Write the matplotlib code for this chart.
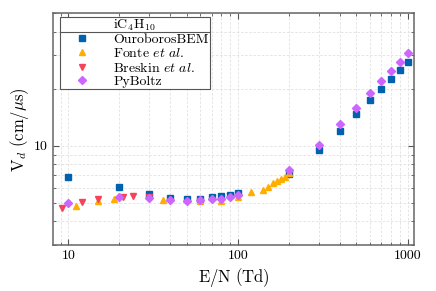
import matplotlib
matplotlib.use("Agg")
import matplotlib.pyplot as plt
from matplotlib.ticker import LogLocator, NullFormatter, FixedLocator, FixedFormatter
from matplotlib.lines import Line2D

plt.rcParams['font.family'] = 'serif'
plt.rcParams['font.serif'] = ['cmr10', 'DejaVu Serif']
plt.rcParams['mathtext.fontset'] = 'cm'
plt.rcParams['axes.formatter.use_mathtext'] = True

# ---- data ----
ouro_x = [10, 20, 30, 40, 50, 60, 70, 80, 90, 100, 200, 300, 400, 500, 600, 700, 800, 900, 1000]
ouro_y = [6.88, 6.09, 5.55, 5.28, 5.23, 5.26, 5.36, 5.44, 5.52, 5.64, 7.1, 9.52, 12.05, 14.7, 17.4, 19.95, 22.6, 25.2, 27.7]

fonte_x = [11.1, 15, 18.6, 36, 60, 80, 100, 120, 140, 150, 160, 170, 180, 190, 200]
fonte_y = [4.83, 5.14, 5.25, 5.18, 5.12, 5.13, 5.35, 5.69, 5.85, 6.09, 6.36, 6.53, 6.69, 6.88, 7.2]

bres_x = [9.15, 12, 15, 21, 24, 30]
bres_y = [4.68, 5.03, 5.23, 5.35, 5.44, 5.39]

pyb_x = [10, 20, 30, 40, 50, 60, 70, 80, 90, 100, 200, 300, 400, 500, 600, 700, 800, 900, 1000]
pyb_y = [4.98, 5.35, 5.28, 5.18, 5.15, 5.18, 5.25, 5.25, 5.39, 5.52, 7.47, 10.1, 13.0, 15.9, 18.9, 21.9, 24.8, 27.8, 30.8]

labels = ['OuroborosBEM', r'Fonte $\it{et\ al.}$', r'Breskin $\it{et\ al.}$', 'PyBoltz']
title = r'iC$_4$H$_{10}$'
xticks = [10, 100, 1000]
xticklabels = ['10', '100', '1000']
yticks = [10]
yticklabels = ['10']

c_blue = '#0061AF'
c_orange = '#FFAE00'
c_red = '#F4435A'
c_violet = '#CC66FF'

fig = plt.figure(figsize=(4.36, 2.91), dpi=100)
ax = fig.add_axes([0.121, 0.158, 0.829, 0.796])

ax.plot(ouro_x, ouro_y, 's', color=c_blue, ms=4.8, lw=0, label=labels[0], zorder=3)
ax.plot(fonte_x, fonte_y, '^', color=c_orange, ms=4.5, lw=0, label=labels[1], zorder=3)
ax.plot(bres_x, bres_y, 'v', color=c_red, ms=4.5, lw=0, label=labels[2], zorder=3)
ax.plot(pyb_x, pyb_y, 'D', color=c_violet, ms=3.8, lw=0, label=labels[3], zorder=4)

ax.set_xscale('log')
ax.set_yscale('log')
ax.set_xlim(8.1, 1095)
ax.set_ylim(3, 50)

ax.xaxis.set_major_locator(FixedLocator(xticks))
ax.xaxis.set_major_formatter(FixedFormatter(xticklabels))
ax.xaxis.set_minor_locator(LogLocator(base=10, subs=range(2, 10)))
ax.xaxis.set_minor_formatter(NullFormatter())
ax.yaxis.set_major_locator(FixedLocator(yticks))
ax.yaxis.set_major_formatter(FixedFormatter(yticklabels))
ax.yaxis.set_minor_locator(LogLocator(base=10, subs=range(2, 10)))
ax.yaxis.set_minor_formatter(NullFormatter())

ax.tick_params(which='both', direction='in', top=True, right=True, colors='#555555', labelcolor='black', labelsize=10)
ax.tick_params(which='major', length=4, width=0.8)
ax.tick_params(which='minor', length=2.5, width=0.6)
for s in ax.spines.values():
    s.set_color('#666666')
    s.set_linewidth(1.1)

ax.grid(True, which='both', ls=(0, (3, 2)), color='#e0e0e0', lw=0.6)
ax.set_axisbelow(True)

ax.set_xlabel(r'$\mathrm{E/N\ (Td)}$', fontsize=12, labelpad=3)
ax.set_ylabel(r'$\mathrm{V}_d\ \mathrm{(cm/\mu s)}$', fontsize=12, labelpad=2)

leg = ax.legend(loc='upper left', bbox_to_anchor=(0.02, 0.985), title=title, fontsize=10,
                title_fontsize=10, numpoints=1, handlelength=3.0, handletextpad=0.8,
                labelspacing=0.05, borderpad=0.05, fancybox=False, framealpha=1,
                edgecolor='#555555', borderaxespad=0)
leg.get_frame().set_linewidth(0.8)

fig.canvas.draw()
fb = leg.get_frame().get_window_extent()
tb = leg.get_title().get_window_extent()
yline = tb.y0 + 1.0
inv = fig.transFigure.inverted()
(x0, y0) = inv.transform((fb.x0, yline))
(x1, _) = inv.transform((fb.x1, yline))
fig.add_artist(Line2D([x0, x1], [y0, y0], transform=fig.transFigure, color='#555555', lw=0.8, zorder=10))

fig.savefig('out.png', dpi=100)
